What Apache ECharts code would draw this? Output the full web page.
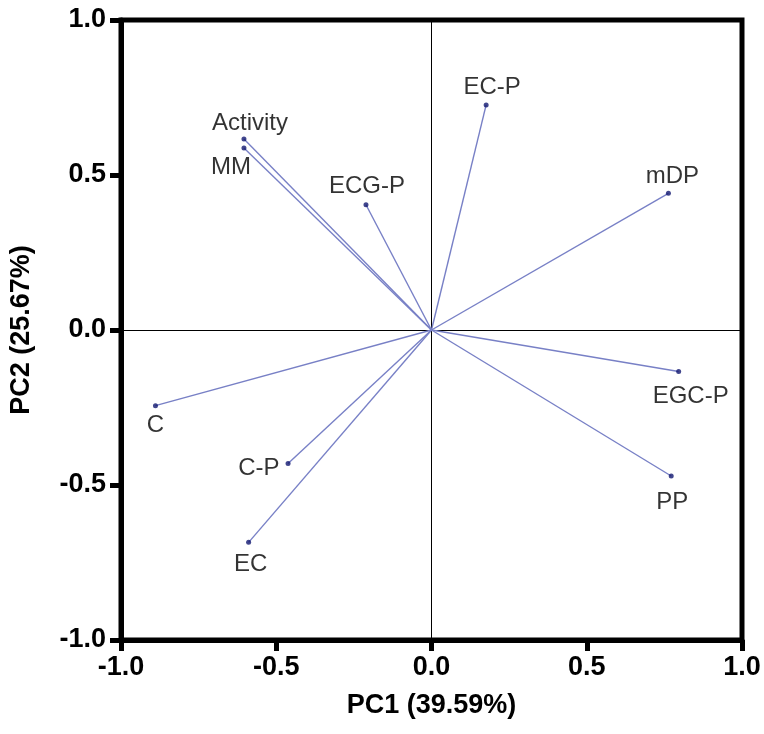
<!DOCTYPE html>
<html>
<head>
<meta charset="utf-8">
<script src="https://cdn.jsdelivr.net/npm/echarts@6/dist/echarts.min.js"></script>
<style>
  html, body { margin: 0; padding: 0; background: #fff; }
  #chart { width: 764px; height: 734px; }
</style>
</head>
<body>
<div id="chart"></div>
<script>
// PCA loadings (biplot vectors)
const variables = ['Activity', 'MM', 'ECG-P', 'EC-P', 'mDP', 'EGC-P', 'PP', 'C', 'C-P', 'EC'];
const pc1 = [-0.604, -0.604, -0.211, 0.176, 0.763, 0.796, 0.772, -0.889, -0.462, -0.589];
const pc2 = [0.616, 0.587, 0.404, 0.726, 0.441, -0.134, -0.471, -0.244, -0.431, -0.685];
const axisTicks = [-1.0, -0.5, 0.0, 0.5, 1.0];
const xTitle = 'PC1 (39.59%)';
const yTitle = 'PC2 (25.67%)';

// where each variable's name sits relative to its point
const labelPlacement = {
  'Activity': { position: 'top', offset: [6, 5] },
  'MM': { position: 'bottom', offset: [-13, -1] },
  'ECG-P': { position: 'top', offset: [1, 2] },
  'EC-P': { position: 'top', offset: [6, 3] },
  'mDP': { position: 'top', offset: [4, 4] },
  'EGC-P': { position: 'bottom', offset: [12, 4] },
  'PP': { position: 'bottom', offset: [1, 6] },
  'C': { position: 'bottom', offset: [0, -1] },
  'C-P': { position: 'left', offset: [0, 5] },
  'EC': { position: 'bottom', offset: [2, 2] }
};

const vectorColor = '#7880c6';
const pointColor = '#121870';

const vectorData = variables.map((name, i) => ({
  coords: [[0, 0], [pc1[i], pc2[i]]]
}));

const pointData = variables.map((name, i) => {
  const p = labelPlacement[name];
  return {
    name: name,
    value: [pc1[i], pc2[i]],
    label: { position: p.position, offset: p.offset }
  };
});

const lo = axisTicks[0], hi = axisTicks[axisTicks.length - 1];
const step = axisTicks[1] - axisTicks[0];
const fmt = v => (Math.abs(v) < 1e-9 ? 0 : v).toFixed(1);

const chart = echarts.init(document.getElementById('chart'), null, { renderer: 'canvas' });
chart.setOption({
  animation: false,
  backgroundColor: '#fff',
  grid: {
    left: 121, right: 22, top: 20, bottom: 94,
    show: true, borderColor: '#000', borderWidth: 5, backgroundColor: 'transparent'
  },
  xAxis: {
    type: 'value', min: lo, max: hi, interval: step,
    name: xTitle, nameLocation: 'middle', nameGap: 52,
    nameTextStyle: { fontFamily: 'Liberation Sans', fontWeight: 'bold', fontSize: 27, color: '#000' },
    axisLine: { show: true, onZero: false, lineStyle: { color: '#000', width: 5 } },
    axisTick: { show: true, length: 11, lineStyle: { color: '#000', width: 5 } },
    axisLabel: { margin: 14, formatter: fmt, fontFamily: 'Liberation Sans', fontWeight: 'bold', fontSize: 27, color: '#000' },
    splitLine: { show: false }
  },
  yAxis: {
    type: 'value', min: lo, max: hi, interval: step,
    name: yTitle, nameLocation: 'middle', nameGap: 86, nameRotate: 90,
    nameTextStyle: { fontFamily: 'Liberation Sans', fontWeight: 'bold', fontSize: 27, color: '#000' },
    axisLine: { show: true, onZero: false, lineStyle: { color: '#000', width: 5 } },
    axisTick: { show: true, length: 11, lineStyle: { color: '#000', width: 5 } },
    axisLabel: { margin: 15, formatter: fmt, fontFamily: 'Liberation Sans', fontWeight: 'bold', fontSize: 27, color: '#000' },
    splitLine: { show: false }
  },
  series: [
    {
      // zero reference lines
      type: 'lines', coordinateSystem: 'cartesian2d', silent: true, z: 1,
      lineStyle: { color: '#000', width: 1, opacity: 1 },
      data: [
        { coords: [[lo, 0], [hi, 0]] },
        { coords: [[0, lo], [0, hi]] }
      ]
    },
    {
      type: 'lines', coordinateSystem: 'cartesian2d', silent: true, z: 2,
      lineStyle: { color: vectorColor, width: 1.4, opacity: 1 },
      data: vectorData
    },
    {
      type: 'scatter', z: 3,
      symbol: 'circle', symbolSize: 5,
      itemStyle: { color: pointColor },
      label: {
        show: true, formatter: '{b}', distance: 6,
        fontFamily: 'Liberation Sans', fontSize: 24, color: '#000'
      },
      data: pointData
    }
  ]
});
</script>
</body>
</html>
